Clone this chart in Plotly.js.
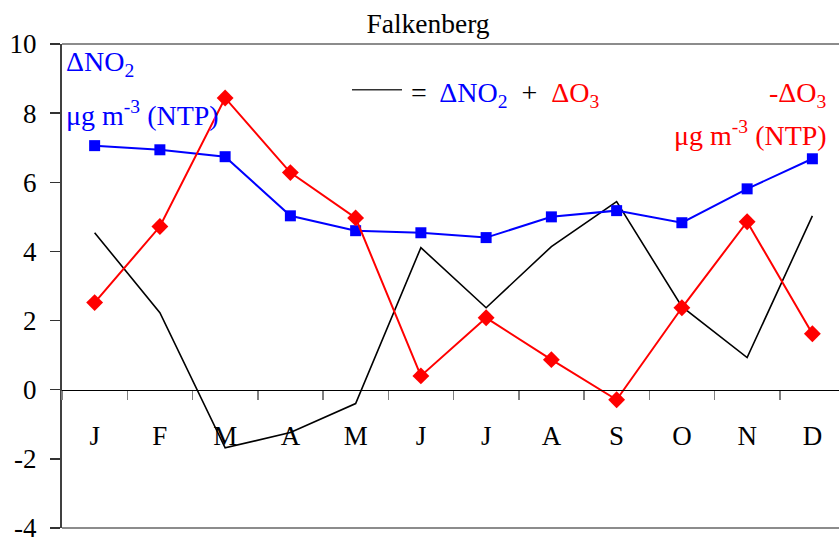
<!DOCTYPE html>
<html>
<head>
<meta charset="utf-8">
<script src="https://cdn.plot.ly/plotly-3.0.1.min.js"></script>
<style>
  html, body { margin: 0; padding: 0; overflow: hidden; background: #fff; }
  #chart { width: 846px; height: 537px; }
</style>
</head>
<body>
<div id="chart"></div>
<script>
// Monthly categories and their axis letters
const months = ['Jan','Feb','Mar','Apr','May','Jun','Jul','Aug','Sep','Oct','Nov','Dec'];
const monthLetters = ['J','F','M','A','M','J','J','A','S','O','N','D'];

// ΔNO2 (blue), -ΔO3 (red) and their combination ΔNO2 + ΔO3 (black), µg m-3 (NTP)
const dNO2 = [7.06, 6.94, 6.74, 5.03, 4.60, 4.54, 4.40, 5.00, 5.18, 4.83, 5.81, 6.68];
const negdO3 = [2.52, 4.72, 8.44, 6.28, 4.97, 0.40, 2.08, 0.87, -0.29, 2.37, 4.86, 1.62];
const sumNO2O3 = [4.54, 2.23, -1.68, -1.24, -0.40, 4.11, 2.37, 4.14, 5.44, 2.40, 0.93, 5.03];

const yTicks = [-4, -2, 0, 2, 4, 6, 8, 10];
const yTickText = ['-4', '-2', '0', '2', '4', '6', '8', '10'];

const serif = 'Liberation Serif';
const BLUE = '#0000ff';
const RED = '#ff0000';
const TXT = 28;

const traces = [
  {
    x: months, y: sumNO2O3, type: 'scatter', mode: 'lines',
    line: { color: '#000000', width: 1.6 },
    hoverinfo: 'skip'
  },
  {
    x: months, y: dNO2, type: 'scatter', mode: 'lines+markers',
    line: { color: BLUE, width: 2 },
    marker: { symbol: 'square', size: 11, color: BLUE }
  },
  {
    x: months, y: negdO3, type: 'scatter', mode: 'lines+markers',
    line: { color: RED, width: 2 },
    marker: { symbol: 'diamond', size: 13, color: RED }
  }
];

const yMin = -4, yMax = 10;

const layout = {
  width: 846, height: 537,
  margin: { l: 62, r: 1, t: 44, b: 9 },
  paper_bgcolor: '#ffffff', plot_bgcolor: '#ffffff',
  showlegend: false,
  font: { family: serif, size: 26, color: '#000' },
  title: {
    text: 'Falkenberg',
    font: { family: serif, size: 27.5, color: '#000' },
    xref: 'container', x: 428 / 846, xanchor: 'center',
    yref: 'container', y: 1 - 23 / 537, yanchor: 'middle'
  },
  xaxis: {
    type: 'category',
    categoryorder: 'array', categoryarray: months,
    tickmode: 'array', tickvals: months, ticktext: monthLetters,
    tickson: 'boundaries',
    ticks: 'outside', ticklen: 9, tickwidth: 1.5, tickcolor: '#808080',
    ticklabelstandoff: 21,
    tickfont: { family: serif, size: 27, color: '#000' },
    showline: true, linecolor: '#000', linewidth: 1.5,
    showgrid: false, zeroline: false,
    anchor: 'free', position: (0 - yMin) / (yMax - yMin),
    range: [-0.5, 11.5]
  },
  yaxis: {
    range: [yMin, yMax],
    tickmode: 'array', tickvals: yTicks, ticktext: yTickText,
    ticks: 'outside', ticklen: 10, tickwidth: 1.5, tickcolor: '#333',
    ticklabelstandoff: 8, ticklabeloverflow: 'allow',
    tickfont: { family: serif, size: 27, color: '#000' },
    showline: true, linecolor: '#404040', linewidth: 2,
    showgrid: false, zeroline: false
  },
  shapes: [
    // top and bottom frame
    { type: 'line', xref: 'paper', yref: 'paper', x0: 0, x1: 1, y0: 1, y1: 1,
      line: { color: '#8c8c8c', width: 2 } },
    { type: 'line', xref: 'paper', yref: 'paper', x0: 0, x1: 1, y0: 0, y1: 0,
      line: { color: '#8c8c8c', width: 2 } },
    // key sample for the black line
    { type: 'line', xref: 'paper', yref: 'y',
      x0: (352 - 62) / 783, x1: (402 - 62) / 783, y0: 8.68, y1: 8.68,
      line: { color: '#333', width: 1.5 } }
  ],
  annotations: [
    { xref: 'paper', yref: 'y', x: (64 - 62) / 783, y: 9.43, xanchor: 'left', yanchor: 'middle',
      text: 'ΔNO<sub>2</sub>', showarrow: false, font: { family: serif, size: TXT, color: BLUE } },
    { xref: 'paper', yref: 'y', x: (64 - 62) / 783, y: 8.0, xanchor: 'left', yanchor: 'middle',
      text: 'μg m<sup>-3</sup>&nbsp;(NTP)', showarrow: false, font: { family: serif, size: TXT, color: BLUE } },
    { xref: 'paper', yref: 'y', x: (409 - 62) / 783, y: 8.55, xanchor: 'left', yanchor: 'middle',
      text: '=&nbsp; <span style="color:' + BLUE + '">ΔNO<sub>2</sub></span>&nbsp; +&nbsp; <span style="color:' + RED + '">ΔO<sub>3</sub></span>',
      showarrow: false, font: { family: serif, size: TXT, color: '#000' } },
    { xref: 'paper', yref: 'y', x: (829 - 62) / 783, y: 8.55, xanchor: 'right', yanchor: 'middle',
      text: '-ΔO<sub>3</sub>', showarrow: false, font: { family: serif, size: TXT, color: RED } },
    { xref: 'paper', yref: 'y', x: (829 - 62) / 783, y: 7.4, xanchor: 'right', yanchor: 'middle',
      text: 'μg m<sup>-3</sup>&nbsp;(NTP)', showarrow: false, font: { family: serif, size: TXT, color: RED } }
  ]
};

Plotly.newPlot('chart', traces, layout, { staticPlot: true, displayModeBar: false });
</script>
</body>
</html>
